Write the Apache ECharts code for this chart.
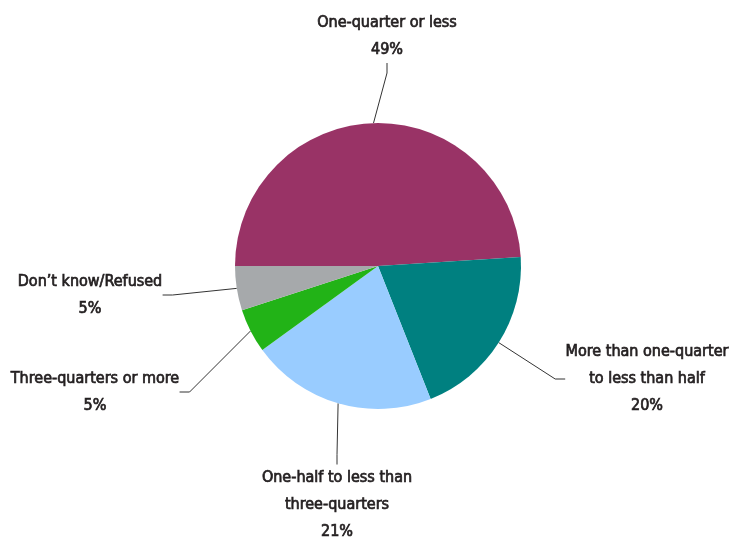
<!DOCTYPE html>
<html>
<head>
<meta charset="utf-8">
<script src="https://cdn.jsdelivr.net/npm/echarts@6/dist/echarts.min.js"></script>
<style>html,body{margin:0;padding:0;background:#fff}#c{width:730px;height:546px}</style>
</head>
<body>
<div id="c"></div>
<script>
var categories = ['One-quarter or less', 'More than one-quarter\nto less than half', 'One-half to less than\nthree-quarters', 'Three-quarters or more', 'Don\u2019t know/Refused'];
var values = [49, 20, 21, 5, 5];
var colors = ['#993366', '#008080', '#99CCFF', '#22B317', '#A6A9AB'];
// label anchor positions (layout only)
var labelPos = [[387, 36], [647, 379], [337, 505], [95, 392], [90, 295]];

var chart = echarts.init(document.getElementById('c'));
chart.setOption({
  animation: false,
  series: [{
    type: 'pie',
    center: [378, 266],
    radius: 143,
    startAngle: 180,
    clockwise: true,
    data: categories.map(function (n, i) {
      return { name: n, value: values[i], itemStyle: { color: colors[i] } };
    }),
    label: {
      show: true,
      position: 'outside',
      formatter: function (p) { return p.name + '\n' + p.value + '%'; },
      fontFamily: '"DejaVu Sans Condensed", sans-serif',
      fontSize: 16,
      fontWeight: 'normal',
      lineHeight: 27,
      color: '#231f20',
      textBorderColor: '#231f20',
      textBorderWidth: 0.7,
      align: 'center',
      overflow: 'none'
    },
    labelLine: {
      show: true,
      length: 20,
      length2: 10,
      lineStyle: { color: '#333', width: 1 }
    },
    labelLayout: function (params) {
      var p = labelPos[params.dataIndex];
      return { x: p[0], y: p[1], align: 'center', verticalAlign: 'middle' };
    },
    emphasis: { disabled: true }
  }]
});
</script>
</body>
</html>
